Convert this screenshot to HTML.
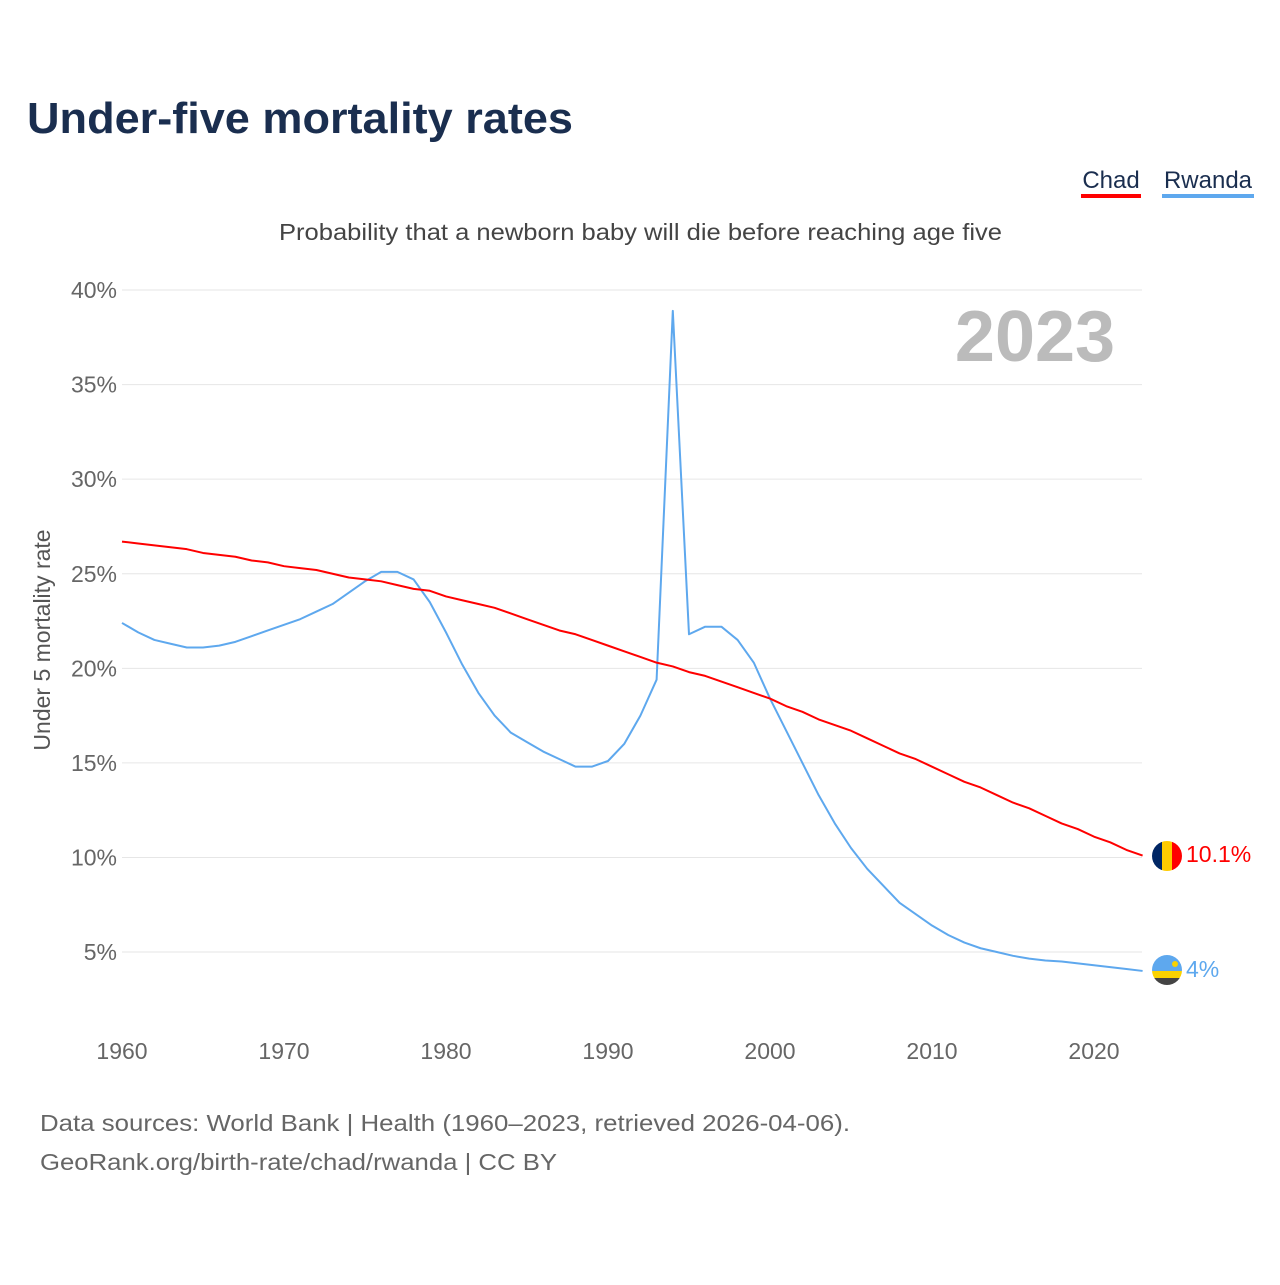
<!DOCTYPE html>
<html><head><meta charset="utf-8"><style>
body{margin:0;background:#fff;font-family:"Liberation Sans",sans-serif}
svg text{font-family:"Liberation Sans",sans-serif}
</style></head><body>
<svg width="1280" height="1280" viewBox="0 0 1280 1280">
<text x="27" y="133" font-size="44" font-weight="bold" fill="#1a2e4f" textLength="546" lengthAdjust="spacingAndGlyphs">Under-five mortality rates</text>
<g><text x="1111" y="188" font-size="24" fill="#1a2e4f" text-anchor="middle">Chad</text><rect x="1081" y="194" width="60" height="4" fill="#ff0000"/></g>
<g><text x="1208" y="188" font-size="24" fill="#1a2e4f" text-anchor="middle">Rwanda</text><rect x="1162" y="194" width="92" height="4" fill="#5ea8ee"/></g>
<text x="279" y="240" font-size="23" fill="#444" textLength="723" lengthAdjust="spacingAndGlyphs">Probability that a newborn baby will die before reaching age five</text>
<text x="1035" y="361" font-size="72" font-weight="bold" fill="#bbb" text-anchor="middle">2023</text>
<text transform="translate(50,640) rotate(-90)" font-size="23" fill="#555" text-anchor="middle">Under 5 mortality rate</text>
<g id="grid"></g><g id="yticks"></g><g id="xticks"></g><g id="series"></g>
<g><clipPath id="c1"><circle cx="1167" cy="856" r="15"/></clipPath><g clip-path="url(#c1)"><rect x="1152" y="841" width="10" height="30" fill="#002664"/><rect x="1162" y="841" width="10" height="30" fill="#fecb00"/><rect x="1172" y="841" width="10" height="30" fill="#ff0000"/></g></g>
<text x="1186" y="862" font-size="23" fill="#ff0000">10.1%</text>
<g><clipPath id="c2"><circle cx="1167" cy="970" r="15"/></clipPath><g clip-path="url(#c2)"><rect x="1152" y="955" width="30" height="16" fill="#5ea8ee"/><rect x="1152" y="971" width="30" height="7" fill="#fad201"/><rect x="1152" y="978" width="30" height="8" fill="#444"/><circle cx="1175" cy="964" r="3" fill="#fad201"/></g></g>
<text x="1186" y="977" font-size="23" fill="#5ea8ee">4%</text>
<text x="40" y="1131" font-size="23" fill="#666" textLength="810" lengthAdjust="spacingAndGlyphs">Data sources: World Bank | Health (1960–2023, retrieved 2026-04-06).</text>
<text x="40" y="1170" font-size="23" fill="#666" textLength="517" lengthAdjust="spacingAndGlyphs">GeoRank.org/birth-rate/chad/rwanda | CC BY</text>
</svg>
<script>
const years=[];for(let y=1960;y<=2023;y++)years.push(y);
const yTicks=[5,10,15,20,25,30,35,40];
const xTicks=[1960,1970,1980,1990,2000,2010,2020];
const chad=[26.7,26.6,26.5,26.4,26.3,26.1,26.0,25.9,25.7,25.6,25.4,25.3,25.2,25.0,24.8,24.7,24.6,24.4,24.2,24.1,23.8,23.6,23.4,23.2,22.9,22.6,22.3,22.0,21.8,21.5,21.2,20.9,20.6,20.3,20.1,19.8,19.6,19.3,19.0,18.7,18.4,18.0,17.7,17.3,17.0,16.7,16.3,15.9,15.5,15.2,14.8,14.4,14.0,13.7,13.3,12.9,12.6,12.2,11.8,11.5,11.1,10.8,10.4,10.1];
const rwanda=[22.4,21.9,21.5,21.3,21.1,21.1,21.2,21.4,21.7,22.0,22.3,22.6,23.0,23.4,24.0,24.6,25.1,25.1,24.7,23.5,21.9,20.2,18.7,17.5,16.6,16.1,15.6,15.2,14.8,14.8,15.1,16.0,17.5,19.4,38.9,21.8,22.2,22.2,21.5,20.3,18.4,16.7,15.0,13.3,11.8,10.5,9.4,8.5,7.6,7.0,6.4,5.9,5.5,5.2,5.0,4.8,4.65,4.55,4.5,4.4,4.3,4.2,4.1,4.0];
const NS='http://www.w3.org/2000/svg';
const X=y=>122+(y-1960)*16.2;
const Y=v=>1046.6-v*18.914;
function mk(t,a,p){const e=document.createElementNS(NS,t);for(const k in a)e.setAttribute(k,a[k]);document.getElementById(p).appendChild(e);return e;}
yTicks.forEach(v=>{
 const l=mk('line',{x1:122,x2:1142,y1:Y(v),y2:Y(v),stroke:'#e6e6e6','stroke-width':1},'grid');
 
 
 const t=mk('text',{x:117,y:Y(v)+8,'font-size':23,fill:'#666','text-anchor':'end'},'yticks');t.textContent=v+'%';
 
 
});
xTicks.forEach(v=>{
 const t=mk('text',{x:X(v),y:1059,'font-size':23,fill:'#666','text-anchor':'middle'},'xticks');t.textContent=v;
 
 
});
function line(d,c,n){
 const p=mk('polyline',{points:d.map((v,i)=>X(years[i])+','+Y(v)).join(' '),fill:'none',stroke:c,'stroke-width':2,'stroke-linejoin':'round'},'series');
 
 
}
line(rwanda,'#5ea8ee','rwanda-line');
line(chad,'#ff0000','chad-line');
</script>
</body></html>
